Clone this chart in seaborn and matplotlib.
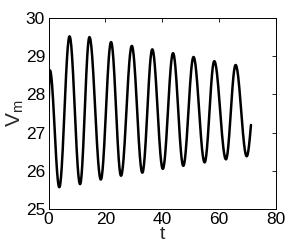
import numpy as np
import pandas as pd
import seaborn as sns
import matplotlib
matplotlib.use("Agg")
import matplotlib.pyplot as plt

# Extrema of V_m (time, value), in order along the curve
ext_t = [0.0, 0.5, 3.8, 7.4, 11.1, 14.4, 18.4, 22.0, 25.5, 29.3, 33.0, 36.5,
         40.2, 43.8, 47.4, 51.0, 54.9, 58.3, 62.4, 65.8, 69.7, 71.2]
ext_v = [27.55, 28.63, 25.57, 29.52, 25.65, 29.50, 25.77, 29.37, 25.87, 29.27, 25.95, 29.18,
         26.05, 29.08, 26.13, 28.98, 26.22, 28.87, 26.30, 28.77, 26.38, 27.20]

x_ticks = [0, 20, 40, 60, 80]
y_ticks = [25, 26, 27, 28, 29, 30]

# smooth half-cosine rendering between successive extrema
ts, vs = [], []
for i in range(len(ext_t) - 1):
    t0, t1 = ext_t[i], ext_t[i + 1]
    v0, v1 = ext_v[i], ext_v[i + 1]
    s = np.linspace(0, 1, 30, endpoint=False)
    if i == 0:
        w = np.sin(s * np.pi / 2)
    elif i == len(ext_t) - 2:
        w = 1 - np.cos(s * np.pi / 2)
    else:
        w = (1 - np.cos(s * np.pi)) / 2
    ts.extend(t0 + (t1 - t0) * s)
    vs.extend(v0 + (v1 - v0) * w)
ts.append(ext_t[-1]); vs.append(ext_v[-1])
df = pd.DataFrame({"t": ts, "Vm": vs})

sns.set_theme(style="white")
plt.rcParams["font.family"] = ["Liberation Sans", "DejaVu Sans"]
plt.rcParams["mathtext.fontset"] = "custom"
plt.rcParams["mathtext.rm"] = "Liberation Sans"
plt.rcParams["mathtext.it"] = "Liberation Sans"

fig = plt.figure(figsize=(3.05, 2.49), dpi=100)
ax = fig.add_axes([48.5 / 305, 1 - 209 / 249, (276 - 48.5) / 305, (209 - 18) / 249])
sns.lineplot(data=df, x="t", y="Vm", ax=ax, color="black", linewidth=1.8, sort=False)
ax.set_xlim(0, 80)
ax.set_ylim(25, 30)
ax.set_xticks(x_ticks)
ax.set_yticks(y_ticks)
ax.tick_params(direction="in", length=3, width=0.6, top=True, right=True,
               labelsize=12.5, colors="black")
ax.tick_params(axis="x", pad=2.5)
ax.tick_params(axis="y", pad=2.5)
for sp in ax.spines.values():
    sp.set_color("black")
    sp.set_linewidth(0.7)
ax.set_xlabel("t", fontsize=14, labelpad=-1)
ax.set_ylabel(r"V$_\mathrm{m}$", fontsize=15, labelpad=0)
fig.savefig("out.png", dpi=100)
